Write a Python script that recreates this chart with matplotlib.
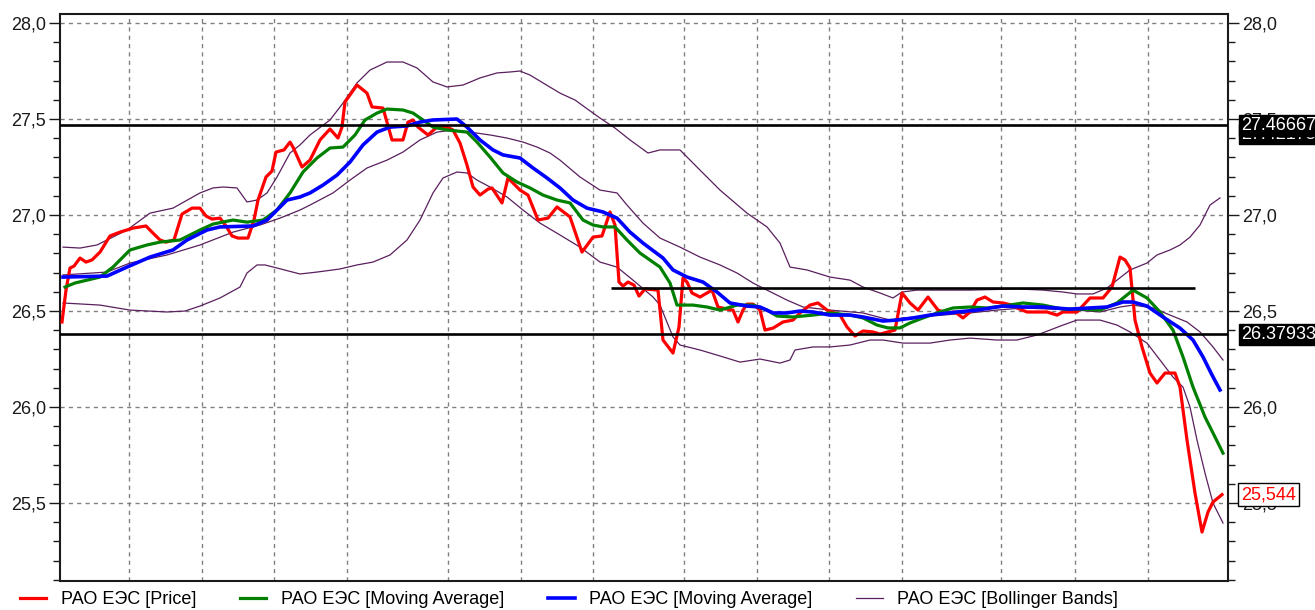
import matplotlib
matplotlib.use('Agg')
import matplotlib.pyplot as plt
from matplotlib.lines import Line2D
from matplotlib.ticker import MultipleLocator, FuncFormatter

plt.rcParams['font.family'] = ['Liberation Sans', 'DejaVu Sans']

# time axis: intraday bar position (no labels on the original chart)
day_breaks = [69, 142, 214, 287, 388, 461, 533, 624, 697, 769, 842, 941, 1015, 1088]

price_pts = [
    (2, 26.443), (6, 26.609), (10, 26.724), (14, 26.734), (20, 26.776), (26, 26.755), (32, 26.766),
    (40, 26.807), (50, 26.891), (60, 26.911), (73, 26.932), (86, 26.943), (92, 26.911), (100, 26.870),
    (106, 26.859), (114, 26.870), (122, 27.005), (132, 27.036), (140, 27.036), (146, 26.995),
    (152, 26.979), (160, 26.984), (166, 26.943), (172, 26.891), (178, 26.880), (188, 26.880),
    (194, 26.974), (198, 27.078), (206, 27.198), (212, 27.229), (216, 27.328), (224, 27.339),
    (230, 27.380), (233, 27.354), (242, 27.250), (250, 27.286), (260, 27.391), (270, 27.448),
    (278, 27.401), (282, 27.458), (285, 27.589), (297, 27.677), (307, 27.635), (312, 27.563),
    (323, 27.557), (327, 27.484), (332, 27.391), (343, 27.391), (348, 27.484), (353, 27.495),
    (358, 27.458), (368, 27.417), (377, 27.458), (387, 27.458), (393, 27.443), (400, 27.375),
    (407, 27.260), (413, 27.146), (420, 27.104), (428, 27.135), (432, 27.141), (442, 27.063),
    (448, 27.193), (460, 27.130), (468, 27.104), (478, 26.974), (488, 26.984), (497, 27.042),
    (510, 26.990), (522, 26.807), (533, 26.885), (542, 26.891), (550, 27.016), (555, 26.948),
    (559, 26.651), (563, 26.630), (568, 26.651), (574, 26.635), (579, 26.578), (585, 26.615),
    (598, 26.609), (603, 26.349), (613, 26.281), (619, 26.417), (623, 26.672), (627, 26.651),
    (632, 26.594), (640, 26.573), (647, 26.594), (652, 26.609), (658, 26.521), (667, 26.510),
    (673, 26.505), (678, 26.443), (683, 26.505), (687, 26.536), (693, 26.536), (700, 26.505),
    (705, 26.401), (713, 26.411), (723, 26.443), (733, 26.453), (740, 26.490), (750, 26.531),
    (758, 26.542), (767, 26.505), (780, 26.479), (787, 26.417), (795, 26.370), (803, 26.396),
    (813, 26.391), (820, 26.380), (835, 26.401), (842, 26.594), (850, 26.542), (858, 26.505),
    (868, 26.573), (878, 26.505), (887, 26.490), (895, 26.495), (903, 26.464), (910, 26.495),
    (917, 26.557), (925, 26.573), (933, 26.547), (943, 26.542), (952, 26.531), (957, 26.516),
    (967, 26.495), (987, 26.495), (997, 26.479), (1003, 26.495), (1017, 26.495), (1030, 26.568),
    (1043, 26.568), (1052, 26.625), (1060, 26.781), (1065, 26.766), (1070, 26.724), (1075, 26.453),
    (1082, 26.313), (1090, 26.177), (1097, 26.125), (1105, 26.177), (1115, 26.177), (1120, 26.104),
    (1127, 25.828), (1135, 25.552), (1142, 25.349), (1148, 25.453), (1153, 25.505), (1162, 25.544),
]

ma_fast_pts = [
    (5, 26.625), (15, 26.646), (40, 26.677), (53, 26.729), (70, 26.818), (87, 26.844), (100, 26.859),
    (120, 26.870), (140, 26.922), (153, 26.953), (173, 26.974), (187, 26.963), (203, 26.974),
    (217, 27.026), (230, 27.115), (243, 27.224), (257, 27.297), (270, 27.349), (283, 27.354),
    (295, 27.417), (305, 27.495), (317, 27.531), (327, 27.552), (343, 27.547), (353, 27.531),
    (363, 27.495), (373, 27.458), (387, 27.443), (407, 27.432), (417, 27.380), (430, 27.302),
    (443, 27.219), (457, 27.172), (470, 27.141), (483, 27.104), (497, 27.078), (510, 27.063),
    (523, 26.974), (533, 26.948), (543, 26.938), (555, 26.938), (567, 26.870), (580, 26.802),
    (600, 26.729), (610, 26.646), (617, 26.531), (633, 26.531), (647, 26.521), (660, 26.505),
    (677, 26.531), (693, 26.531), (707, 26.505), (717, 26.474), (733, 26.469), (753, 26.479),
    (770, 26.490), (790, 26.479), (803, 26.464), (817, 26.427), (828, 26.412), (840, 26.412),
    (850, 26.438), (863, 26.464), (880, 26.495), (893, 26.516), (910, 26.521), (927, 26.516),
    (943, 26.526), (963, 26.542), (983, 26.531), (1003, 26.510), (1023, 26.510), (1040, 26.505),
    (1057, 26.542), (1073, 26.609), (1087, 26.568), (1100, 26.495), (1113, 26.401), (1123, 26.261),
    (1133, 26.104), (1145, 25.948), (1153, 25.865), (1163, 25.760),
]

ma_slow_pts = [
    (3, 26.677), (47, 26.682), (67, 26.729), (90, 26.781), (113, 26.818), (127, 26.870), (147, 26.922),
    (160, 26.938), (193, 26.943), (207, 26.974), (227, 27.078), (240, 27.094), (250, 27.115),
    (263, 27.156), (277, 27.208), (290, 27.276), (303, 27.365), (317, 27.432), (330, 27.458),
    (347, 27.464), (360, 27.484), (373, 27.495), (397, 27.500), (407, 27.458), (420, 27.391),
    (433, 27.339), (443, 27.313), (460, 27.297), (473, 27.245), (487, 27.193), (500, 27.141),
    (513, 27.078), (527, 27.036), (543, 27.016), (557, 26.984), (570, 26.911), (583, 26.854),
    (603, 26.776), (613, 26.714), (627, 26.677), (643, 26.651), (657, 26.599), (670, 26.542),
    (687, 26.526), (700, 26.521), (713, 26.490), (727, 26.490), (740, 26.500), (753, 26.495),
    (770, 26.479), (790, 26.479), (803, 26.469), (823, 26.448), (837, 26.453), (853, 26.464),
    (870, 26.479), (897, 26.495), (917, 26.505), (943, 26.526), (963, 26.521), (983, 26.521),
    (1010, 26.510), (1030, 26.516), (1047, 26.521), (1063, 26.547), (1073, 26.547), (1087, 26.526),
    (1103, 26.469), (1120, 26.411), (1133, 26.349), (1143, 26.261), (1152, 26.167), (1160, 26.089),
]

bb_upper_pts = [
    (3, 26.833), (20, 26.828), (37, 26.844), (67, 26.922), (90, 27.010), (113, 27.036), (140, 27.115),
    (153, 27.141), (163, 27.146), (177, 27.141), (187, 27.068), (197, 27.078), (207, 27.115),
    (217, 27.198), (230, 27.323), (240, 27.365), (250, 27.417), (270, 27.495), (283, 27.583),
    (297, 27.688), (310, 27.755), (327, 27.797), (343, 27.797), (357, 27.766), (373, 27.693),
    (387, 27.667), (403, 27.677), (420, 27.714), (437, 27.740), (450, 27.745), (460, 27.750),
    (470, 27.729), (483, 27.688), (500, 27.635), (515, 27.599), (540, 27.505), (555, 27.453),
    (570, 27.391), (588, 27.323), (600, 27.339), (620, 27.339), (640, 27.234), (660, 27.130),
    (687, 27.010), (707, 26.938), (720, 26.854), (730, 26.729), (747, 26.714), (770, 26.677),
    (790, 26.661), (803, 26.625), (820, 26.594), (833, 26.568), (842, 26.599), (857, 26.609),
    (910, 26.609), (957, 26.615), (983, 26.609), (1003, 26.599), (1017, 26.589), (1033, 26.589),
    (1047, 26.620), (1057, 26.661), (1070, 26.714), (1087, 26.750), (1097, 26.792), (1110, 26.818),
    (1120, 26.844), (1130, 26.885), (1140, 26.948), (1150, 27.052), (1160, 27.089),
]

bb_middle_pts = [
    (3, 26.688), (47, 26.703), (70, 26.750), (107, 26.792), (140, 26.844), (173, 26.911), (200, 26.948),
    (220, 26.984), (240, 27.026), (250, 27.052), (273, 27.115), (290, 27.182), (307, 27.245),
    (327, 27.286), (343, 27.328), (360, 27.391), (377, 27.432), (393, 27.443), (410, 27.432),
    (430, 27.417), (447, 27.401), (463, 27.380), (477, 27.354), (490, 27.323), (500, 27.286),
    (520, 27.198), (540, 27.130), (557, 27.115), (567, 27.052), (583, 26.958), (600, 26.880),
    (620, 26.833), (640, 26.781), (660, 26.740), (677, 26.698), (693, 26.646), (707, 26.609),
    (727, 26.557), (743, 26.521), (770, 26.505), (803, 26.490), (830, 26.453), (843, 26.464),
    (870, 26.474), (910, 26.490), (937, 26.505), (963, 26.516), (990, 26.510), (1017, 26.505),
    (1040, 26.495), (1060, 26.521), (1073, 26.531), (1093, 26.516), (1110, 26.479), (1127, 26.443),
    (1140, 26.391), (1153, 26.313), (1163, 26.245),
]

bb_lower_pts = [
    (3, 26.542), (40, 26.531), (70, 26.505), (107, 26.495), (125, 26.500), (140, 26.526), (160, 26.568),
    (180, 26.625), (187, 26.698), (197, 26.740), (205, 26.740), (217, 26.724), (240, 26.693),
    (257, 26.703), (280, 26.719), (297, 26.740), (313, 26.755), (330, 26.792), (347, 26.870),
    (360, 26.974), (373, 27.115), (383, 27.193), (397, 27.224), (407, 27.219), (417, 27.182),
    (430, 27.146), (447, 27.094), (463, 27.026), (480, 26.958), (500, 26.896), (520, 26.833),
    (540, 26.755), (557, 26.729), (573, 26.661), (593, 26.573), (600, 26.531), (613, 26.365),
    (620, 26.323), (640, 26.297), (660, 26.266), (680, 26.234), (700, 26.250), (720, 26.229),
    (730, 26.245), (735, 26.297), (753, 26.313), (770, 26.313), (790, 26.323), (810, 26.349),
    (823, 26.349), (843, 26.333), (870, 26.333), (890, 26.349), (910, 26.359), (937, 26.349),
    (957, 26.349), (977, 26.375), (990, 26.401), (1003, 26.427), (1017, 26.453), (1040, 26.453),
    (1057, 26.427), (1070, 26.391), (1087, 26.333), (1100, 26.245), (1113, 26.156), (1123, 26.104),
    (1130, 26.000), (1137, 25.828), (1145, 25.656), (1153, 25.500), (1163, 25.396),
]

# horizontal levels
level_high = 27.46667
level_high2 = 27.42173
level_low = 26.37933
level_mid = 26.62
level_mid_span = (551, 1135)
last_price = 25.544

name = 'РАО ЕЭС'
legend_labels = [name + ' [Price]', name + ' [Moving Average]', name + ' [Moving Average]',
                 name + ' [Bollinger Bands]']

band_color = '#5a1f5e'

fig = plt.figure(figsize=(13.15, 6.10), dpi=100)
ax = fig.add_axes([60 / 1315, 1 - 581 / 610, 1168 / 1315, 567 / 610])
ax.set_xlim(0, 1168)
ax.set_ylim(25.094, 28.047)


def xy(pts):
    return [p[0] for p in pts], [p[1] for p in pts]


for pts in (bb_upper_pts, bb_middle_pts, bb_lower_pts):
    ax.plot(*xy(pts), color=band_color, lw=0.9, zorder=2)
ax.plot(*xy(price_pts), color='#ff0000', lw=2.3, zorder=3)
ax.plot(*xy(ma_fast_pts), color='#008000', lw=2.3, zorder=4)
ax.plot(*xy(ma_slow_pts), color='#0000ff', lw=2.6, zorder=5)

ax.axhline(level_high, color='black', lw=1.9, zorder=6)
ax.axhline(level_low, color='black', lw=1.9, zorder=6)
ax.hlines(level_mid, level_mid_span[0], level_mid_span[1], color='black', lw=1.9, zorder=6)

# axes styling
for s in ax.spines.values():
    s.set_linewidth(1.5)
    s.set_color('#1a1a1a')
ax.yaxis.set_major_locator(MultipleLocator(0.5))
ax.yaxis.set_minor_locator(MultipleLocator(0.1))
ax.yaxis.set_major_formatter(FuncFormatter(lambda v, p: f'{v:.1f}'.replace('.', ',')))
ax.tick_params(axis='y', which='both', direction='out', left=True, right=True,
               labelleft=True, labelright=True, colors='#1a1a1a', labelsize=13, pad=2)
ax.tick_params(axis='y', which='major', length=8, width=1)
ax.tick_params(axis='y', which='minor', length=5, width=1)
ax.set_xticks(day_breaks)
ax.tick_params(axis='x', length=0, labelbottom=False)
ax.grid(True, which='major', color='#808080', linestyle=(0, (3, 3)), lw=1)
ax.set_axisbelow(True)

# value labels on the right (they overlap each other in the original too)
trans = ax.get_yaxis_transform()
lx = (1241 - 60) / 1168
ax.text(lx, level_high2, f'{level_high2:.5f}', transform=trans, color='white', fontsize=13,
        va='center', ha='left', clip_on=False, zorder=10,
        bbox=dict(boxstyle='square,pad=0.1', fc='black', ec='black'))
ax.text(lx, level_high, f'{level_high:.5f}', transform=trans, color='white', fontsize=13,
        va='center', ha='left', clip_on=False, zorder=11,
        bbox=dict(boxstyle='square,pad=0.1', fc='black', ec='black'))
ax.text(lx, level_low, f'{level_low:.5f}', transform=trans, color='white', fontsize=13,
        va='center', ha='left', clip_on=False, zorder=11,
        bbox=dict(boxstyle='square,pad=0.1', fc='black', ec='black'))
ax.text(lx, last_price, f'{last_price:.3f}'.replace('.', ','), transform=trans, color='#ff0000',
        fontsize=13, va='center', ha='left', clip_on=False, zorder=11,
        bbox=dict(boxstyle='square,pad=0.15', fc='white', ec='black', lw=1))

handles = [Line2D([], [], color='#ff0000', lw=2.3), Line2D([], [], color='#008000', lw=2.3),
           Line2D([], [], color='#0000ff', lw=2.6), Line2D([], [], color=band_color, lw=0.9)]
fig.legend(handles, legend_labels, loc='center left', bbox_to_anchor=(20 / 1315, 1 - 600 / 610),
           ncol=4, frameon=False, fontsize=13, handlelength=1.45, handletextpad=0.8,
           columnspacing=2.45, borderpad=0, borderaxespad=0)

fig.savefig('out.png', dpi=100)
